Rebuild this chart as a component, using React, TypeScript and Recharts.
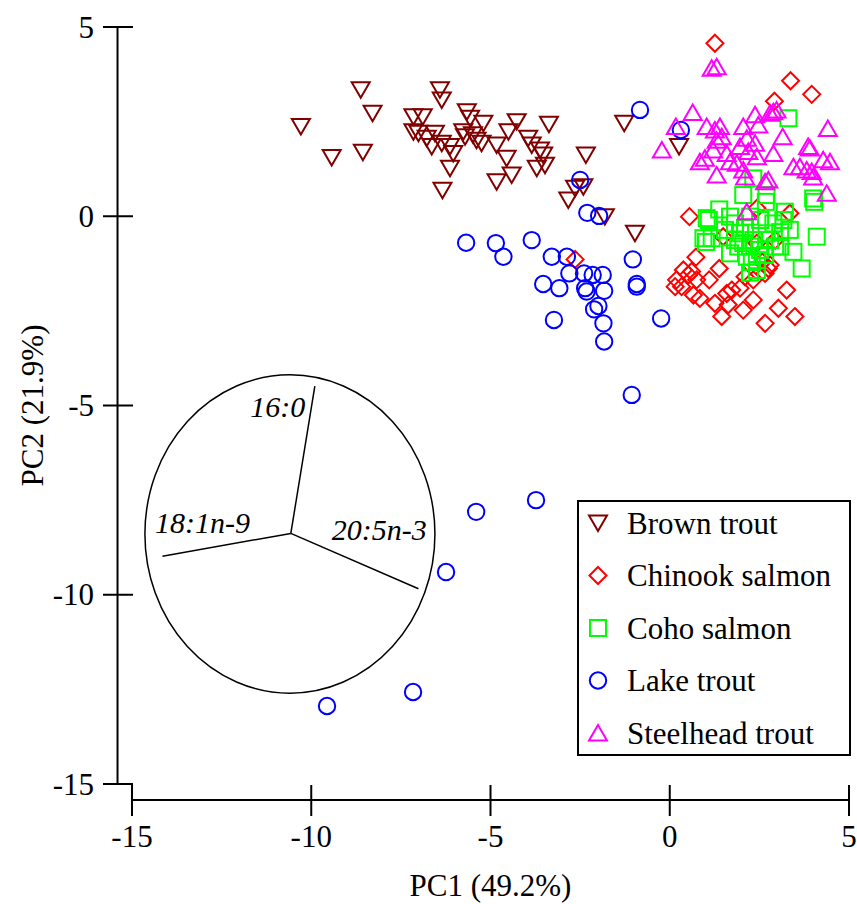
import React from 'react';
import {
  ScatterChart,
  Scatter,
  XAxis,
  YAxis,
  ReferenceLine,
  ReferenceArea,
  ReferenceDot,
  Legend,
} from 'recharts';

const FONT = "'Liberation Serif', 'Times New Roman', Times, serif";

const axisTicks = [-15, -10, -5, 0, 5];
const axisDomain: [number, number] = [-15, 5];

const brownTrout: [number, number][] = [
  [-10.29, 2.37], [-8.62, 3.34], [-8.29, 2.72], [-9.43, 1.55], [-8.56, 1.69],
  [-7.15, 2.63], [-6.89, 2.63], [-6.41, 3.34], [-6.36, 3.07], [-7.15, 2.23],
  [-7.01, 2.19], [-6.78, 2.06], [-6.55, 2.19], [-6.64, 1.84], [-6.36, 1.93],
  [-6.13, 1.84], [-6.04, 1.66], [-6.13, 1.27], [-6.34, 0.69], [-5.66, 2.76],
  [-5.57, 2.59], [-5.71, 2.10], [-5.76, 2.23], [-5.39, 2.01], [-5.20, 2.46],
  [-5.49, 2.15], [-5.25, 1.93], [-4.83, 1.88], [-4.27, 2.50], [-4.50, 2.23],
  [-3.95, 2.06], [-4.55, 1.53], [-4.83, 0.91], [-4.41, 1.09], [-3.37, 2.43],
  [-3.85, 1.88], [-3.62, 1.75], [-3.53, 1.62], [-3.71, 1.27], [-3.48, 1.35],
  [-1.27, 2.46], [-2.34, 1.62], [-2.64, 0.74], [-2.41, 0.78], [-2.83, 0.43],
  [-1.81, -0.01], [-0.97, -0.45], [0.26, 1.84],
];

const chinookSalmon: [number, number][] = [
  [1.26, 4.57], [3.37, 3.58], [3.96, 3.22], [2.92, 3.04], [0.55, -0.01],
  [1.49, -0.54], [2.43, 0.21], [3.35, 0.08], [2.94, -0.63], [0.73, -1.08],
  [0.38, -1.42], [0.52, -1.55], [0.61, -1.46], [0.19, -1.68], [0.33, -1.86],
  [0.15, -1.86], [0.75, -1.68], [1.10, -1.68], [1.38, -1.38], [0.66, -2.08],
  [0.84, -2.17], [1.26, -2.30], [1.59, -2.04], [1.73, -1.95], [1.96, -1.90],
  [2.10, -1.60], [2.33, -1.68], [2.33, -2.21], [2.05, -2.48], [1.63, -2.34],
  [1.45, -2.65], [2.66, -1.51], [2.75, -1.38], [3.26, -1.95], [3.03, -2.43],
  [3.49, -2.65], [2.66, -2.83], [-2.64, -1.14], [2.58, -1.21], [2.80, -1.29],
  [2.43, -0.71],
];

const cohoSalmon: [number, number][] = [
  [2.05, 0.56], [2.68, 0.38], [4.03, 0.38], [1.38, 0.18], [1.03, -0.05],
  [3.21, 0.12], [0.94, -0.58], [1.17, -0.58], [1.68, -0.01], [1.82, -0.19],
  [2.24, -0.01], [2.52, -0.10], [2.89, -0.19], [3.17, -0.10], [3.35, -0.36],
  [4.10, -0.54], [1.68, -0.98], [1.96, -0.45], [2.05, -0.71], [2.24, -0.80],
  [2.15, -1.07], [2.43, -1.16], [2.43, -1.42], [2.70, -0.45], [2.94, -0.80],
  [3.08, -0.80], [3.45, -0.94], [3.68, -1.38], [1.91, -0.80], [2.33, -0.63],
  [3.31, 2.59], [2.33, 1.00], [2.70, 0.56], [4.00, 0.47], [1.09, -0.10],
  [1.01, -0.68], [2.24, -1.49], [2.10, -0.31], [2.52, -0.89], [1.82, -0.63],
  [2.66, -1.02], [2.29, -1.21], [2.80, -0.63], [1.54, -0.36], [3.08, -0.42],
];

const lakeTrout: [number, number][] = [
  [-2.50, 0.96], [-2.30, 0.09], [-1.97, 0.01], [-5.68, -0.70], [-4.85, -0.71],
  [-4.64, -1.07], [-3.85, -0.63], [-3.29, -1.07], [-2.87, -1.07], [-2.80, -1.51],
  [-2.39, -1.51], [-2.15, -1.55], [-1.87, -1.55], [-3.53, -1.79], [-3.08, -1.90],
  [-2.36, -1.90], [-2.32, -1.99], [-1.83, -1.97], [-2.11, -2.46], [-1.99, -2.37],
  [-1.85, -2.83], [-1.83, -3.31], [-3.23, -2.74], [-1.03, -1.14], [-0.92, -1.79],
  [-0.92, -1.86], [-0.24, -2.70], [-1.06, -4.72], [-0.83, 2.81], [0.31, 2.28],
  [-3.73, -7.50], [-5.40, -7.81], [-6.24, -9.40], [-7.16, -12.57], [-9.56, -12.94],
];

const steelheadTrout: [number, number][] = [
  [1.17, 3.91], [1.31, 3.95], [0.64, 2.74], [0.17, 2.37], [-0.22, 1.75],
  [1.03, 2.37], [1.26, 2.28], [1.40, 2.37], [1.31, 2.01], [1.45, 2.10],
  [1.21, 1.75], [1.59, 1.66], [0.84, 1.44], [0.98, 1.53], [1.31, 1.09],
  [1.68, 1.44], [2.05, 2.37], [2.38, 2.68], [2.47, 2.41], [2.80, 2.72],
  [2.89, 2.76], [2.98, 2.81], [2.15, 2.06], [2.38, 1.93], [1.96, 1.84],
  [2.19, 1.71], [1.87, 1.40], [2.05, 1.22], [2.10, 1.04], [2.43, 1.57],
  [2.66, 0.91], [2.75, 0.96], [2.89, 1.66], [3.15, 2.10], [3.45, 1.31],
  [3.63, 1.31], [3.86, 1.84], [3.91, 1.80], [3.82, 1.22], [3.96, 1.18],
  [4.00, 1.04], [4.28, 1.49], [4.47, 1.44], [4.41, 2.32], [4.38, 0.61],
  [2.15, 0.12],
];

const seriesNames = ['Brown trout', 'Chinook salmon', 'Coho salmon', 'Lake trout', 'Steelhead trout'];
const seriesColors = ['#800000', '#FF0000', '#00FF00', '#0000FF', '#FF00FF'];
const seriesShapes = ['down', 'diamond', 'square', 'circle', 'up'];
const seriesData = [brownTrout, chinookSalmon, cohoSalmon, lakeTrout, steelheadTrout];

// biplot loadings (origin + arrow tips) and labels
const loadingOrigin = { x: -10.57, y: -8.38 };
const loadingTips = [
  { name: '16:0', x: -9.9, y: -4.49 },
  { name: '18:1n-9', x: -14.15, y: -8.98 },
  { name: '20:5n-3', x: -7.01, y: -9.84 },
];
const loadingLabels = [
  { name: '16:0', x: -10.17, y: -5.3, anchor: 'end' },
  { name: '18:1n-9', x: -14.36, y: -8.37, anchor: 'start' },
  { name: '20:5n-3', x: -9.43, y: -8.55, anchor: 'start' },
];
const circleBox = { x1: -14.64, x2: -6.55, y1: -12.6, y2: -4.19 };

const toPts = (a: [number, number][]) => a.map(([x, y]) => ({ x, y }));

function Marker({ kind, cx, cy, color }: { kind: string; cx: number; cy: number; color: string }) {
  const sw = 2;
  if (kind === 'down') {
    return (
      <polygon
        points={`${cx - 9},${cy - 7.5} ${cx + 9},${cy - 7.5} ${cx},${cy + 8}`}
        fill="none" stroke={color} strokeWidth={sw} strokeLinejoin="miter"
      />
    );
  }
  if (kind === 'up') {
    return (
      <polygon
        points={`${cx - 9},${cy + 7.5} ${cx + 9},${cy + 7.5} ${cx},${cy - 8}`}
        fill="none" stroke={color} strokeWidth={sw} strokeLinejoin="miter"
      />
    );
  }
  if (kind === 'diamond') {
    return (
      <polygon
        points={`${cx},${cy - 8.5} ${cx + 8.5},${cy} ${cx},${cy + 8.5} ${cx - 8.5},${cy}`}
        fill="none" stroke={color} strokeWidth={sw}
      />
    );
  }
  if (kind === 'square') {
    return <rect x={cx - 8} y={cy - 8} width={16} height={16} fill="none" stroke={color} strokeWidth={sw} />;
  }
  return <circle cx={cx} cy={cy} r={8.2} fill="none" stroke={color} strokeWidth={sw} />;
}

const XTick = (props: any) => {
  const { x, y, payload } = props;
  return (
    <g>
      <line x1={x} x2={x} y1={y + 1} y2={y + 32} stroke="#000" strokeWidth={2} />
      <text x={x} y={y + 63} textAnchor="middle" fontFamily={FONT} fontSize={31} fill="#000">
        {payload.value}
      </text>
    </g>
  );
};

const YTick = (props: any) => {
  const { x, y, payload } = props;
  return (
    <g>
      <line x1={x - 29} x2={x + 1} y1={y} y2={y} stroke="#000" strokeWidth={2} />
      <text x={x - 38} y={y} dy="0.34em" textAnchor="end" fontFamily={FONT} fontSize={31} fill="#000">
        {payload.value}
      </text>
    </g>
  );
};

const XTitle = (props: any) => {
  const vb = props.viewBox || { x: 132, y: 784, width: 717, height: 120 };
  return (
    <text x={vb.x + vb.width / 2} y={vb.y + 112} textAnchor="middle" fontFamily={FONT} fontSize={31} fill="#000">
      PC1 (49.2%)
    </text>
  );
};

const YTitle = (props: any) => {
  const vb = props.viewBox || { x: 0, y: 27, width: 132, height: 757 };
  const x = vb.x + 43;
  const y = vb.y + vb.height / 2;
  return (
    <text x={x} y={y} transform={`rotate(-90, ${x}, ${y})`} textAnchor="middle" fontFamily={FONT} fontSize={31} fill="#000">
      PC2 (21.9%)
    </text>
  );
};

const renderLegend = () => (
  <svg width={270} height={252} style={{ display: 'block' }}>
    {seriesNames.map((name, i) => {
      const cy = 21 + i * 52.5;
      return (
        <g key={name}>
          <Marker kind={seriesShapes[i]} cx={19} cy={cy} color={seriesColors[i]} />
          <text x={48} y={cy} dy="0.34em" fontFamily={FONT} fontSize={31} fill="#000">
            {name}
          </text>
        </g>
      );
    })}
  </svg>
);

export default function App() {
  return (
    <div style={{ position: 'absolute', left: 0, top: 0, width: 857, height: 904, background: '#fff' }}>
      <ScatterChart width={857} height={904} margin={{ top: 27, right: 8, bottom: 0, left: 0 }}>
        <XAxis
          type="number"
          dataKey="x"
          domain={axisDomain}
          ticks={axisTicks}
          interval={0}
          height={120}
          axisLine={false}
          tickLine={false}
          tickSize={0}
          tickMargin={0}
          tick={<XTick />}
          label={{ content: <XTitle /> } as any}
        />
        <YAxis
          type="number"
          dataKey="y"
          domain={axisDomain}
          ticks={axisTicks}
          interval={0}
          width={132}
          axisLine={false}
          tickLine={false}
          tickSize={0}
          tickMargin={0}
          tick={<YTick />}
          label={{ content: <YTitle /> } as any}
        />
        {/* detached axis lines */}
        <ReferenceLine
          segment={[{ x: -15.404, y: -15 }, { x: -15.404, y: 5 }]}
          stroke="#000"
          strokeWidth={2}
          ifOverflow="visible"
        />
        <ReferenceLine
          segment={[{ x: -15, y: -15.423 }, { x: 5, y: -15.423 }]}
          stroke="#000"
          strokeWidth={2}
          ifOverflow="visible"
        />
        {/* correlation circle */}
        <ReferenceArea
          x1={circleBox.x1}
          x2={circleBox.x2}
          y1={circleBox.y1}
          y2={circleBox.y2}
          ifOverflow="visible"
          shape={(p: any) => (
            <ellipse
              cx={p.x + p.width / 2}
              cy={p.y + p.height / 2}
              rx={Math.abs(p.width) / 2}
              ry={Math.abs(p.height) / 2}
              fill="none"
              stroke="#000"
              strokeWidth={1.5}
            />
          )}
        />
        {loadingTips.map((t) => (
          <ReferenceLine
            key={t.name}
            segment={[loadingOrigin, { x: t.x, y: t.y }]}
            stroke="#000"
            strokeWidth={1.5}
            ifOverflow="visible"
          />
        ))}
        {loadingLabels.map((l) => (
          <ReferenceDot
            key={l.name}
            x={l.x}
            y={l.y}
            r={0}
            ifOverflow="visible"
            shape={(p: any) => (
              <text
                x={p.cx}
                y={p.cy}
                textAnchor={l.anchor as any}
                fontFamily={FONT}
                fontStyle="italic"
                fontSize={30}
                fill="#000"
              >
                {l.name}
              </text>
            )}
          />
        ))}
        {seriesData.map((d, i) => (
          <Scatter
            key={seriesNames[i]}
            name={seriesNames[i]}
            data={toPts(d)}
            isAnimationActive={false}
            shape={(p: any) => <Marker kind={seriesShapes[i]} cx={p.cx} cy={p.cy} color={seriesColors[i]} />}
          />
        ))}
        <Legend
          layout="vertical"
          align="center"
          verticalAlign="middle"
          content={renderLegend}
          wrapperStyle={{
            left: 577,
            top: 500,
            width: 274,
            height: 256,
            border: '2px solid #000',
            boxSizing: 'border-box',
            background: '#fff',
          }}
        />
      </ScatterChart>
    </div>
  );
}
